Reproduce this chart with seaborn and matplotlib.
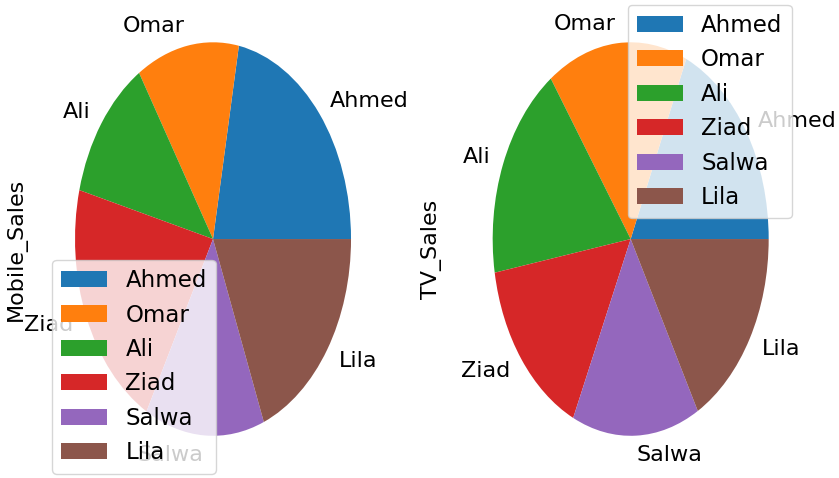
import matplotlib
matplotlib.use("Agg")
import matplotlib.pyplot as plt
import seaborn as sns

sns.set_style("white")
plt.rcParams["font.family"] = ["DejaVu Sans"]
plt.rcParams["text.color"] = "black"
plt.rcParams["axes.labelcolor"] = "black"

names = ["Ahmed", "Omar", "Ali", "Ziad", "Salwa", "Lila"]
mobile_sales = [44, 24, 24, 42, 28, 38]
tv_sales = [37, 33, 36, 31, 30, 34]

colors = sns.color_palette("tab10", len(names))
fs = 16

fig = plt.figure(figsize=(8.39, 4.78), dpi=100)
ax1 = fig.add_axes([0.0483, -0.0146, 0.4112, 1.029])
ax2 = fig.add_axes([0.5461, -0.0146, 0.4112, 1.029])

for ax, vals, title, loc, lx in [
    (ax1, mobile_sales, "Mobile_Sales", "lower left", -0.039),
    (ax2, tv_sales, "TV_Sales", "upper right", -0.047),
]:
    wedges, texts = ax.pie(vals, labels=names, colors=colors,
                           wedgeprops={"linewidth": 0},
                           textprops={"fontsize": fs, "color": "black"})
    ax.set_aspect("auto")
    ax.set_xlim(-1.25, 1.25)
    ax.set_ylim(-1.25, 1.25)
    ax.set_ylabel(title, fontsize=fs)
    ax.yaxis.set_label_coords(lx, 0.48)
    leg = ax.legend(wedges, names, loc=loc, fontsize=16.5)
    for t in leg.get_texts():
        t.set_color("black")

fig.savefig("out.png", dpi=100)
